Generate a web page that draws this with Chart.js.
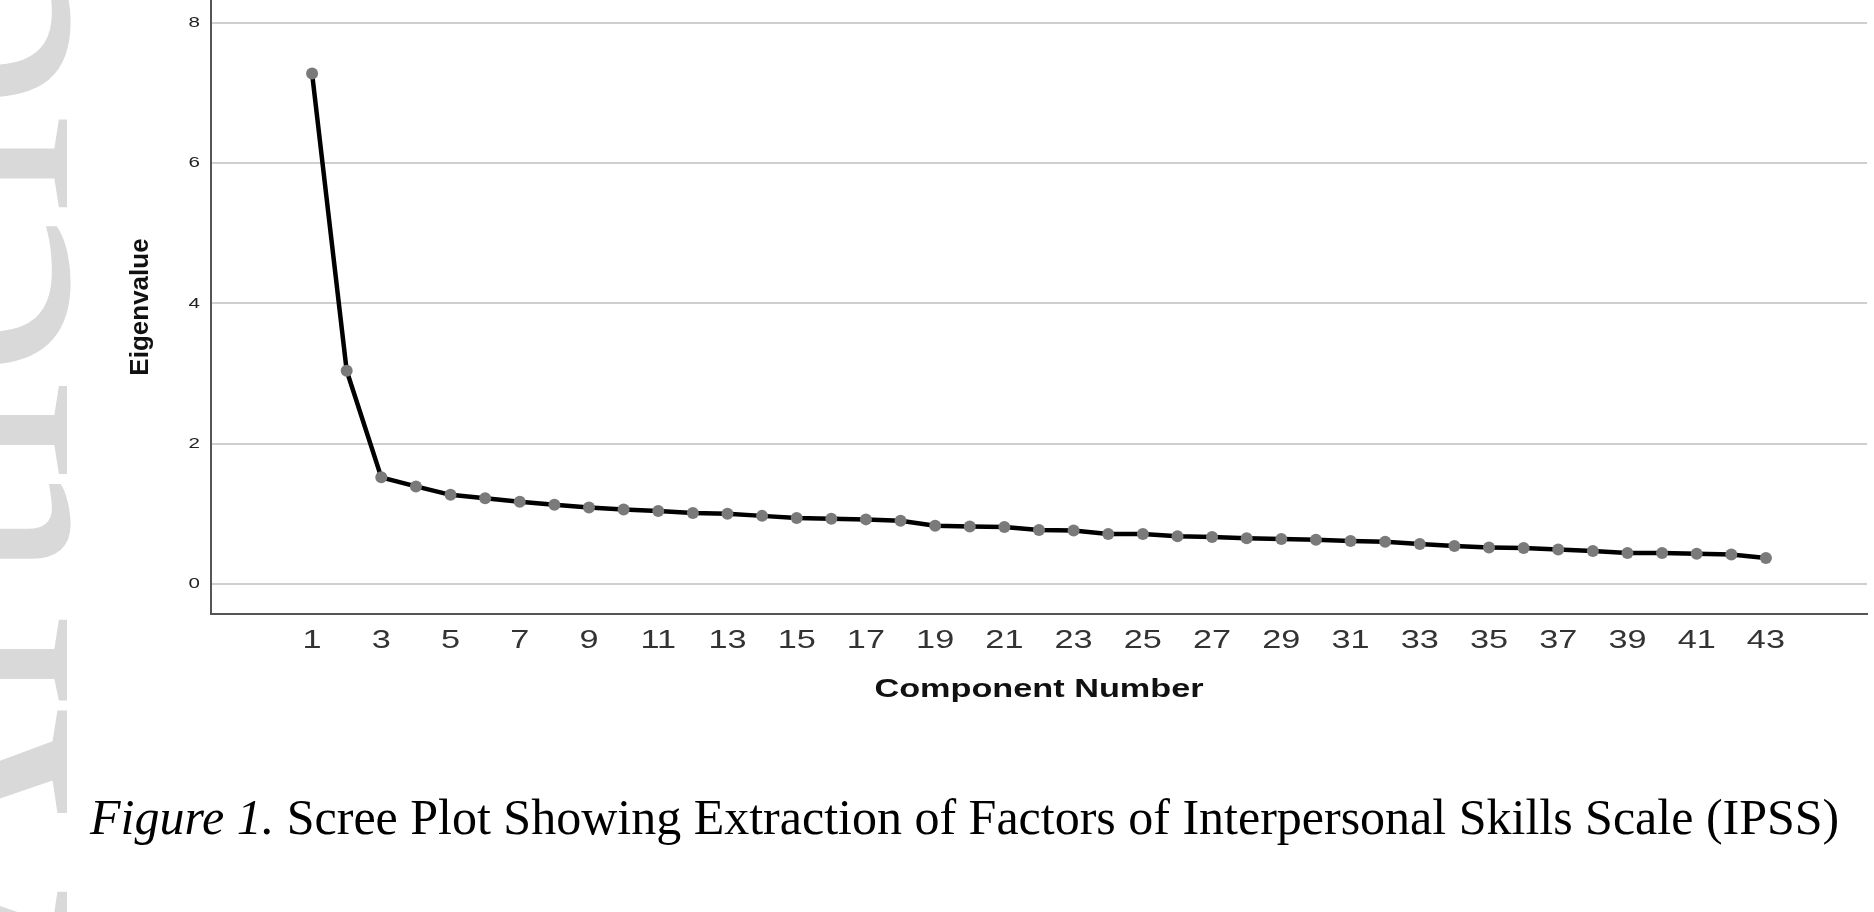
<!DOCTYPE html>
<html>
<head>
    <meta charset="utf-8">
    <script src="https://cdn.jsdelivr.net/npm/chart.js@4.4.0/dist/chart.umd.min.js"></script>
    <style>
        body { margin: 0; background: #fff; width: 1874px; height: 912px; overflow: hidden; position: relative; }
        #wrap { position: absolute; left: 0; top: 0; width: 1874px; height: 730px; }
        #wm {
            position: absolute; left: -243px; top: 975px;
            transform-origin: 0 0; transform: rotate(-90deg);
            font-family: 'Liberation Serif', serif; font-size: 370px; line-height: 1;
            color: #d9d9d9; white-space: nowrap;
        }
        #caption {
            position: absolute; left: 90px; top: 792px;
            font-family: 'Liberation Serif', serif; font-size: 50px; line-height: 1;
            color: #000; white-space: nowrap;
        }
    </style>
</head>
<body>
<div id="wm">Article</div>
<div id="wrap">
    <canvas id="scree"></canvas>
</div>
<div id="caption"><i>Figure 1.</i> Scree Plot Showing Extraction of Factors of Interpersonal Skills Scale (IPSS)</div>

<script>
    // values
    const components = [1, 2, 3, 4, 5, 6, 7, 8, 9, 10, 11, 12, 13, 14, 15, 16, 17, 18, 19, 20, 21, 22,
        23, 24, 25, 26, 27, 28, 29, 30, 31, 32, 33, 34, 35, 36, 37, 38, 39, 40, 41, 42, 43];
    const eigenvalues = [7.28, 3.04, 1.52, 1.39, 1.27, 1.22, 1.17, 1.13, 1.09, 1.06, 1.04, 1.01, 1.00,
        0.97, 0.94, 0.93, 0.92, 0.90, 0.83, 0.82, 0.81, 0.77, 0.76, 0.71, 0.71, 0.68, 0.67, 0.65,
        0.64, 0.63, 0.61, 0.60, 0.57, 0.54, 0.52, 0.51, 0.49, 0.47, 0.44, 0.44, 0.43, 0.42, 0.37];
    const xTicks = [1, 3, 5, 7, 9, 11, 13, 15, 17, 19, 21, 23, 25, 27, 29, 31, 33, 35, 37, 39, 41, 43];
    const yTicks = [0, 2, 4, 6, 8];

    Chart.defaults.font.family = "'Liberation Sans', Arial, sans-serif";

    const canvas = document.getElementById('scree');
    const c2d = canvas.getContext('2d');

    // the SPSS export has its horizontal text stretched sideways; copy that
    const SX = 1.37;
    const rawFill = c2d.fillText;
    c2d.fillText = function (text, x, y, maxWidth) {
        const m = this.getTransform();
        if (Math.abs(m.b) > 1e-6 || Math.abs(m.c) > 1e-6) {
            // rotated text (y title) stays as is
            return maxWidth === undefined ? rawFill.call(this, text, x, y) : rawFill.call(this, text, x, y, maxWidth);
        }
        this.save();
        this.translate(x, y);
        this.scale(SX, 1);
        rawFill.call(this, text, 0, 0);
        this.restore();
    };

    new Chart(c2d, {
        type: 'line',
        data: {
            datasets: [{
                data: components.map((c, i) => ({x: c, y: eigenvalues[i]})),
                borderColor: '#000',
                borderWidth: 4.5,
                pointRadius: 6,
                pointBackgroundColor: '#7a7a7a',
                pointBorderWidth: 0,
                tension: 0
            }]
        },
        options: {
            responsive: true,
            maintainAspectRatio: false,
            animation: false,
            layout: {autoPadding: false, padding: {left: 0, right: 7, top: 0, bottom: 0}},
            plugins: {legend: {display: false}, tooltip: {enabled: false}},
            scales: {
                x: {
                    type: 'linear',
                    min: -1.92,
                    max: 45.92,
                    afterBuildTicks: s => { s.ticks = xTicks.map(v => ({value: v})); },
                    afterFit: s => { s.height = 116; s.paddingLeft = 0; s.paddingRight = 0; },
                    grid: {display: false, drawTicks: false},
                    border: {display: true, color: '#555', width: 2},
                    ticks: {font: {size: 25}, color: '#333', padding: 12, maxRotation: 0, autoSkip: false},
                    title: {
                        display: true, text: 'Component Number', color: '#111',
                        font: {size: 25, weight: 'bold'}, padding: {top: 0, bottom: 25}
                    }
                },
                y: {
                    min: -0.43,
                    max: 8.33,
                    afterBuildTicks: s => { s.ticks = yTicks.map(v => ({value: v})); },
                    afterFit: s => { s.width = 211; s.paddingTop = 0; s.paddingBottom = 0; },
                    grid: {color: '#cfcfcf', lineWidth: 2, drawTicks: false},
                    border: {display: true, color: '#555', width: 2},
                    ticks: {font: {size: 15}, color: '#222', padding: 11},
                    title: {
                        display: true, text: 'Eigenvalue', color: '#111',
                        font: {size: 26, weight: 'bold'}, padding: {top: 125, bottom: 0}
                    }
                }
            }
        }
    });
</script>
</body>
</html>
